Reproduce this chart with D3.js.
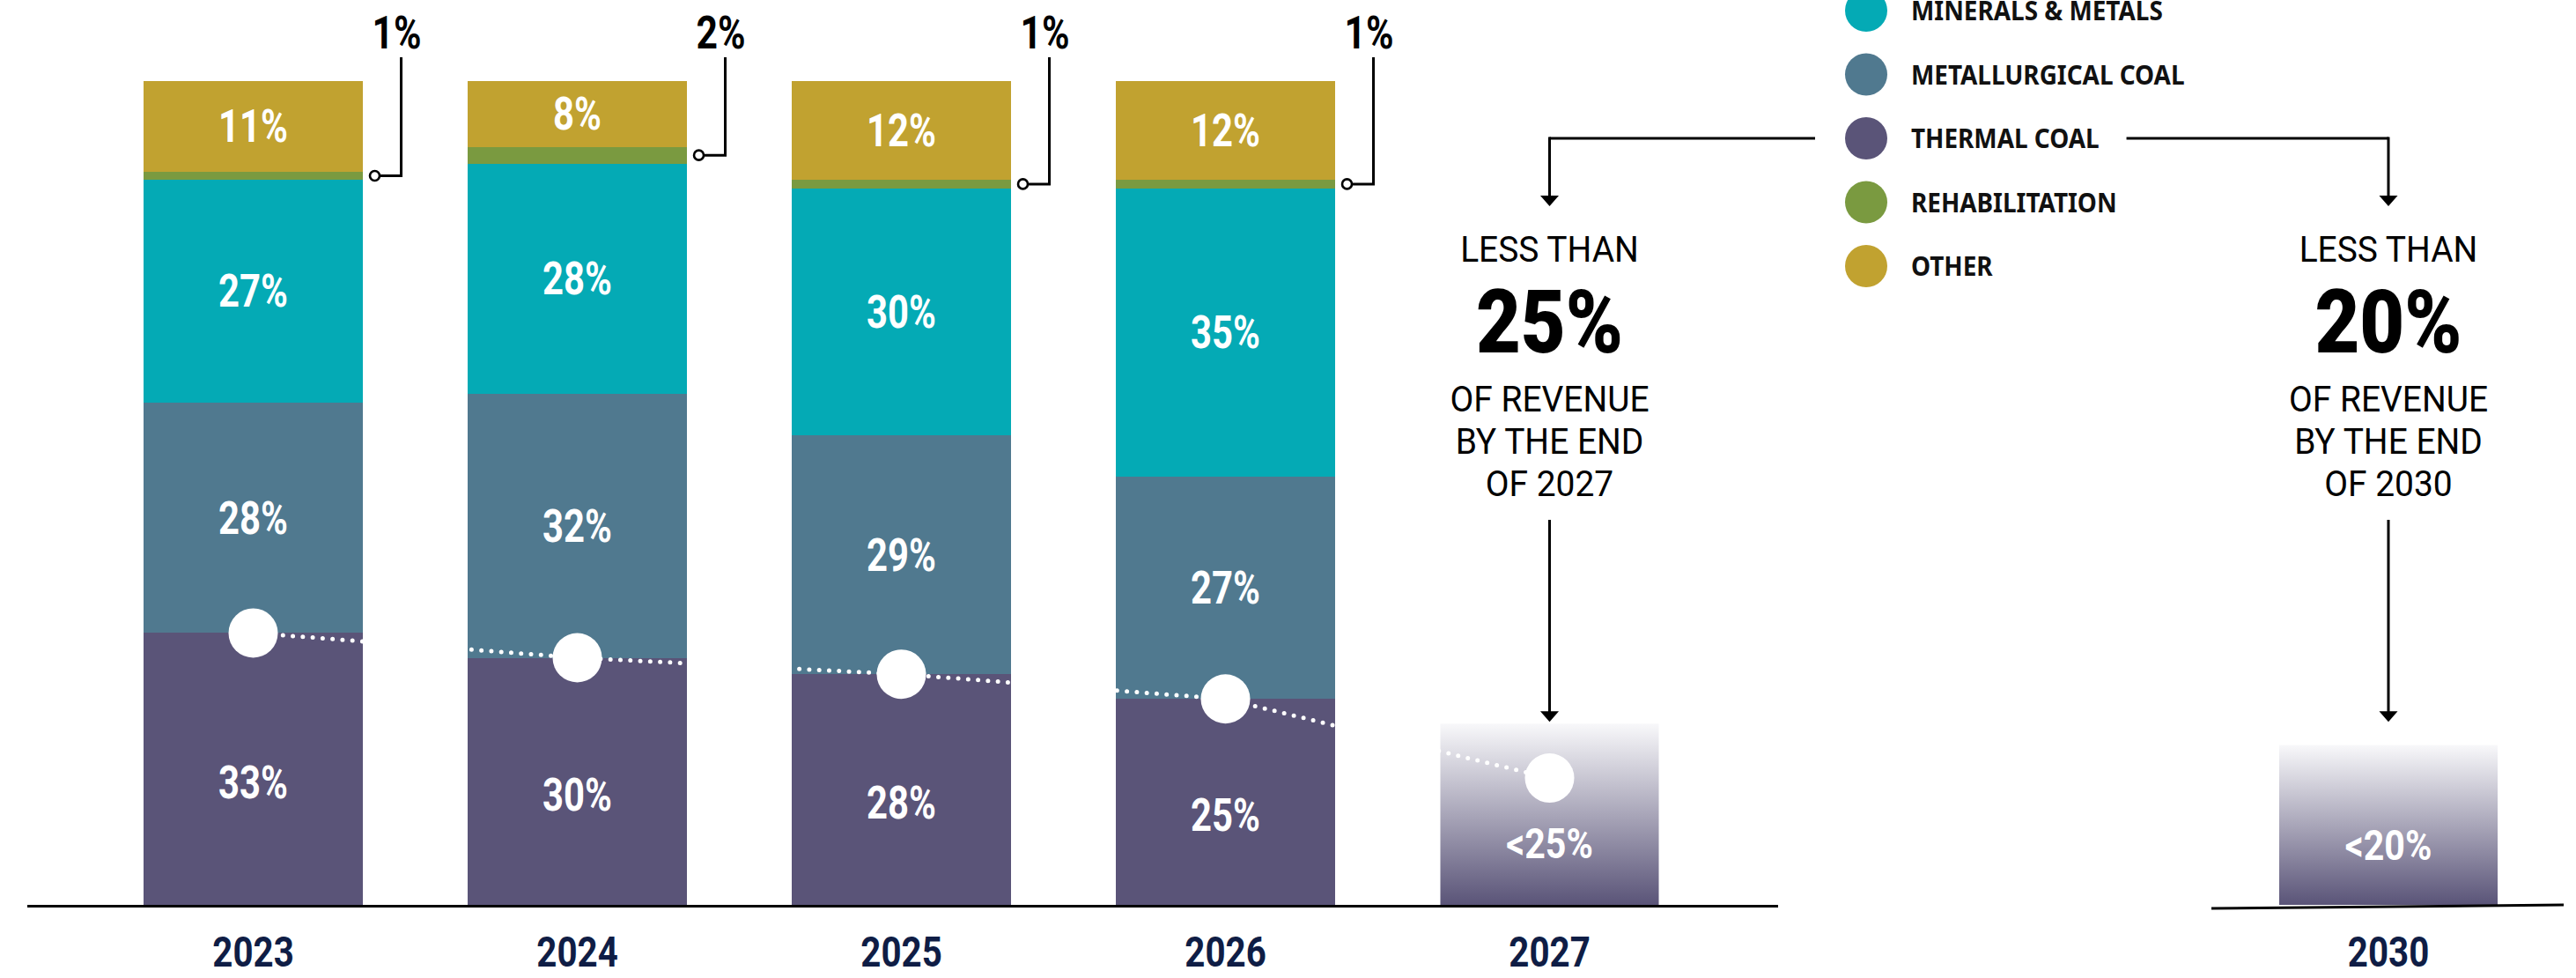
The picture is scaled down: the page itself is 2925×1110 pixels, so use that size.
<!DOCTYPE html>
<html><head><meta charset="utf-8">
<script src="https://cdn.jsdelivr.net/npm/d3@7"></script>
<style>body{margin:0;background:#fff} svg{display:block}</style>
</head><body><svg id="c" width="2925" height="1110"></svg>
<script>
// ---------- data ----------
const years = ["2023","2024","2025","2026"];
const thermalCoal = [33,30,28,25];
const metallurgicalCoal = [28,32,29,27];
const mineralsMetals = [27,28,30,35];
const rehabilitation = [1,2,1,1];
const otherRevenue = [11,8,12,12];
const seriesKeys = ["thermal","metallurgical","minerals","rehabilitation","other"];
const legendKeys = ["minerals","metallurgical","thermal","rehabilitation","other"];
const legendLabels = ["MINERALS & METALS","METALLURGICAL COAL","THERMAL COAL","REHABILITATION","OTHER"];
const targetYears = ["2027","2030"];
const targetShare = [22, 19.4];            // height of the faded target bars as drawn
const targetLabels = ["<25%","<20%"];
const targetHeadline = ["25%","20%"];
const targetIntro = ["LESS THAN","LESS THAN"];
const targetNote = [["OF REVENUE","BY THE END","OF 2027"],["OF REVENUE","BY THE END","OF 2030"]];
const thermalTrend2027 = 15.4;             // position of the 2027 trend dot

const colors = {thermal:"#5a5478", metallurgical:"#50798f", minerals:"#04aab5", rehabilitation:"#7a9a40", other:"#c1a230"};

// ---------- setup ----------
const svg = d3.select("#c");
const rows = years.map((yr,i)=>({year:yr, thermal:thermalCoal[i], metallurgical:metallurgicalCoal[i],
  minerals:mineralsMetals[i], rehabilitation:rehabilitation[i], other:otherRevenue[i]}));
const stacked = d3.stack().keys(seriesKeys)(rows);

const x = d3.scaleBand().domain([...years, targetYears[0]]).range([103.5,1943.5]).paddingInner(0.326).paddingOuter(0.163);
const x2 = d3.scaleBand().domain([targetYears[1]]).range([2588,2836]);
const y = d3.scaleLinear().domain([0,100]).range([1027,92]);
const bw = x.bandwidth();
const cx = yr => x(yr) + bw/2;

const FONT = "Roboto, 'Open Sans', sans-serif";
function ctext(g, str, tx, ty, size, weight, fill, sx){
  return g.append("text").text(str)
    .attr("transform",`translate(${tx},${ty}) scale(${sx},1)`)
    .attr("text-anchor","middle")
    .style("font-family",FONT).style("font-size",size+"px").style("font-weight",weight)
    .attr("fill",fill);
}

const defs = svg.append("defs");
const grad = defs.append("linearGradient").attr("id","fade").attr("x1",0).attr("y1",0).attr("x2",0).attr("y2",1);
grad.append("stop").attr("offset","0%").attr("stop-color","#f8f8fa");
grad.append("stop").attr("offset","100%").attr("stop-color","#5a5478");

// ---------- stacked bars ----------
svg.append("g").attr("shape-rendering","crispEdges")
  .selectAll("g").data(stacked).join("g").attr("fill", d=>colors[d.key])
  .selectAll("rect").data(d=>d).join("rect")
  .attr("x", d=>x(d.data.year)).attr("width", bw)
  .attr("y", d=>y(d[1])).attr("height", d=>y(d[0])-y(d[1]));

// ---------- target bars ----------
const tg = svg.append("g");
tg.append("rect").attr("x",x(targetYears[0])).attr("width",bw)
  .attr("y",y(targetShare[0])).attr("height",y(0)-y(targetShare[0])).attr("fill","url(#fade)");
tg.append("rect").attr("x",x2(targetYears[1])).attr("width",x2.bandwidth())
  .attr("y",y(targetShare[1])).attr("height",y(0)-y(targetShare[1])).attr("fill","url(#fade)");

// ---------- thermal trend ----------
const trendPts = years.map((yr,i)=>[cx(yr), y(thermalCoal[i])]).concat([[cx(targetYears[0]), y(thermalTrend2027)]]);
svg.append("path").attr("d", d3.line()(trendPts)).attr("fill","none")
  .attr("stroke","#fff").attr("stroke-width",5).attr("stroke-linecap","round").attr("stroke-dasharray","0 11.3");
svg.append("g").selectAll("circle").data(trendPts).join("circle")
  .attr("cx",d=>d[0]).attr("cy",d=>d[1]).attr("r",28).attr("fill","#fff");

// ---------- segment labels ----------
const lg = svg.append("g");
stacked.forEach(s=>{
  if(s.key==="rehabilitation") return;
  s.forEach(d=>{
    const mid = (y(d[0])+y(d[1]))/2 + 18 + (s.key==="thermal"?15:0);
    ctext(lg, d.data[s.key]+"%", cx(d.data.year), mid, 51, 700, "#fff", 0.82);
  });
});
ctext(lg, targetLabels[0], cx(targetYears[0]), y(0)-53, 49, 700, "#fff", 0.84);
ctext(lg, targetLabels[1], x2(targetYears[1])+x2.bandwidth()/2, y(0)-51, 49, 700, "#fff", 0.84);

// ---------- rehabilitation leaders ----------
const rehabS = stacked.find(s=>s.key==="rehabilitation");
const ldr = svg.append("g");
rehabS.forEach(d=>{
  const xr = x(d.data.year)+bw;
  const ym = (y(d[0])+y(d[1]))/2;
  ldr.append("path").attr("d",`M${xr+19.5},${ym}H${xr+44}V65`).attr("fill","none").attr("stroke","#000").attr("stroke-width",3);
  ldr.append("circle").attr("cx",xr+14).attr("cy",ym).attr("r",5.5).attr("fill","#fff").attr("stroke","#000").attr("stroke-width",2.6);
  ctext(ldr, d.data.rehabilitation+"%", xr+39, 55, 52, 700, "#000", 0.82);
});

// ---------- baselines & year labels ----------
svg.append("line").attr("x1",31).attr("x2",2019).attr("y1",y(0)+1.5).attr("y2",y(0)+1.5).attr("stroke","#000").attr("stroke-width",3);
svg.append("line").attr("x1",2511).attr("y1",y(0)+4).attr("x2",2911).attr("y2",y(0)).attr("stroke","#000").attr("stroke-width",3);

function yearAxis(scale){
  const a = svg.append("g").attr("transform",`translate(0,${y(0)})`)
    .call(d3.axisBottom(scale).tickSize(0).tickPadding(0));
  a.select(".domain").remove();
  a.selectAll("text").attr("y",null).attr("dy",null)
    .attr("transform","translate(0,70) scale(0.84,1)")
    .style("font-family",FONT).style("font-size","48px").style("font-weight",700).attr("fill","#0f1d45");
}
yearAxis(x); yearAxis(x2);

// ---------- legend ----------
const ly = d3.scalePoint().domain(legendKeys).range([12,302]);
const leg = svg.append("g");
legendKeys.forEach((k,i)=>{
  leg.append("circle").attr("cx",2119).attr("cy",ly(k)).attr("r",24).attr("fill",colors[k]);
  leg.append("text").text(legendLabels[i])
    .attr("transform",`translate(2170,${ly(k)+11}) scale(0.9,1)`)
    .style("font-family","'Noto Sans', sans-serif").style("font-size","31px").style("font-weight",700).attr("fill","#111");
});

// ---------- thermal coal targets annotation ----------
const thermalText = leg.selectAll("text").filter((d,i,n)=>n[i].textContent==="THERMAL COAL").node();
const thermalEnd = 2170 + thermalText.getComputedTextLength()*0.9;
const ty0 = ly("thermal");
const ax = [cx(targetYears[0]), x2(targetYears[1])+x2.bandwidth()/2];
const ann = svg.append("g");
function arrow(xa, y1, tip){
  ann.append("line").attr("x1",xa).attr("x2",xa).attr("y1",y1).attr("y2",tip-8).attr("stroke","#000").attr("stroke-width",3);
  ann.append("path").attr("d",`M${xa-10.5},${tip-12}L${xa+10.5},${tip-12}L${xa},${tip}Z`).attr("fill","#000");
}
ann.append("path").attr("d",`M${2119-24-34},${ty0}H${ax[0]}`).attr("stroke","#000").attr("stroke-width",3).attr("fill","none");
ann.append("path").attr("d",`M${thermalEnd+31},${ty0}H${ax[1]}`).attr("stroke","#000").attr("stroke-width",3).attr("fill","none");
ax.forEach((xa,i)=>{
  arrow(xa, ty0-1.5, 234);
  ctext(ann, targetIntro[i], xa, 297, 41, 400, "#000", 0.95);
  ctext(ann, targetHeadline[i], xa, 400, 101, 900, "#000", 0.87);
  targetNote[i].forEach((t,j)=> ctext(ann, t, xa, 467+48*j, 41, 400, "#000", 0.95));
  arrow(xa, 590, y(targetShare[0])-2);
});
</script></body></html>
